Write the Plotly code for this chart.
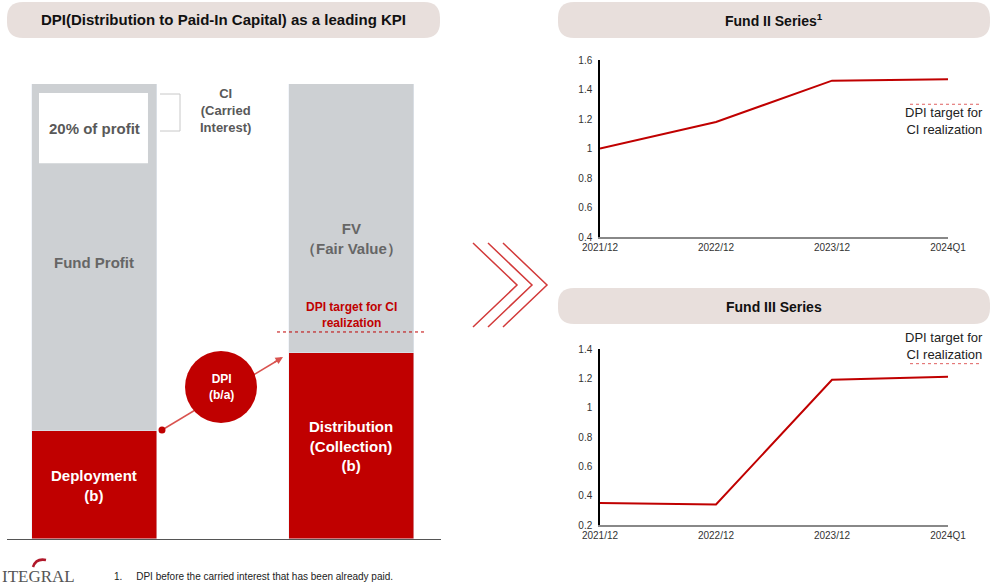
import plotly.graph_objects as go

# ---------------- data ----------------
concept_bars = ["Invested", "Collected"]
red_values = [23.7, 40.9]      # Deployment (b), Distribution (b)
gray_values = [76.3, 59.1]     # Fund Profit, Fair Value
concept_target = 45.5          # DPI target level on concept diagram
ci_box = [82.6, 98.0]          # 20% of profit box (bottom, top)

periods = ["2021/12", "2022/12", "2023/12", "2024Q1"]
fund2_dpi = [1.00, 1.18, 1.46, 1.47]
fund3_dpi = [0.35, 0.34, 1.19, 1.21]
dpi_target = 1.3

W, H = 993, 585
RED = "#c00000"
GRAY = "#cdd0d3"
PILL = "#e8dfdc"
FONT = "Arial, 'Liberation Sans', sans-serif"


def px(x):
    return x / W


def py(y):
    return 1 - y / H


def pill(x0, y0, x1, y1, r):
    pts = [
        ("M", [(x0 + r, y0)]), ("L", [(x1 - r, y0)]), ("Q", [(x1, y0), (x1, y0 + r)]),
        ("L", [(x1, y1 - r)]), ("Q", [(x1, y1), (x1 - r, y1)]), ("L", [(x0 + r, y1)]),
        ("Q", [(x0, y1), (x0, y1 - r)]), ("L", [(x0, y0 + r)]), ("Q", [(x0, y0), (x0 + r, y0)]),
    ]
    s = ""
    for cmd, ps in pts:
        s += cmd + " " + " ".join(f"{px(a):.5f},{py(b):.5f}" for a, b in ps) + " "
    return s + "Z"


fig = go.Figure()

# concept stacked bars
fig.add_trace(go.Bar(x=[0, 1], y=red_values, marker_color=RED, width=0.486,
                     xaxis="x", yaxis="y", showlegend=False, hoverinfo="skip"))
fig.add_trace(go.Bar(x=[0, 1], y=gray_values, marker_color=GRAY, width=0.486,
                     xaxis="x", yaxis="y", showlegend=False, hoverinfo="skip"))

# fund lines
fig.add_trace(go.Scatter(x=periods, y=fund2_dpi, mode="lines", line=dict(color=RED, width=2),
                         xaxis="x2", yaxis="y2", showlegend=False, hoverinfo="skip"))
fig.add_trace(go.Scatter(x=periods, y=fund3_dpi, mode="lines", line=dict(color=RED, width=2),
                         xaxis="x3", yaxis="y3", showlegend=False, hoverinfo="skip"))

axis_common = dict(showgrid=False, zeroline=False, fixedrange=True, automargin=False)
tickf = dict(family=FONT, size=10, color="#333")

fig.update_layout(
    width=W, height=H, margin=dict(l=0, r=0, t=0, b=0, autoexpand=False),
    paper_bgcolor="white", plot_bgcolor="rgba(0,0,0,0)",
    barmode="stack", bargap=0,
    font=dict(family=FONT),
    xaxis=dict(domain=[px(7), px(441)], range=[-0.3405, 1.348], showticklabels=False,
               showline=True, linecolor="#555", linewidth=1, ticks="", **axis_common),
    yaxis=dict(domain=[py(539), py(84)], range=[0, 100], visible=False, **axis_common),
    xaxis2=dict(domain=[px(600), px(948)], range=[0, 3], type="category", anchor="y2",
                showline=True, linecolor="#888", linewidth=1.5, ticks="", tickfont=tickf, **axis_common),
    yaxis2=dict(domain=[py(237), py(60)], range=[0.4, 1.6], dtick=0.2, anchor="x2",
                showline=True, linecolor="#000", linewidth=1.5, ticks="", tickfont=tickf,
                ticklabelstandoff=4, **axis_common),
    xaxis3=dict(domain=[px(600), px(948)], range=[0, 3], type="category", anchor="y3",
                showline=True, linecolor="#888", linewidth=1.5, ticks="", tickfont=tickf, **axis_common),
    yaxis3=dict(domain=[py(525), py(349)], range=[0.2, 1.4], dtick=0.2, anchor="x3",
                showline=True, linecolor="#000", linewidth=1.5, ticks="", tickfont=tickf,
                ticklabelstandoff=4, **axis_common),
)

shapes = []
# title pills
shapes.append(dict(type="path", xref="paper", yref="paper", path=pill(7, 2, 440, 38, 16),
                   fillcolor=PILL, line=dict(width=0), layer="below"))
shapes.append(dict(type="path", xref="paper", yref="paper", path=pill(558, 2, 990, 38, 16),
                   fillcolor=PILL, line=dict(width=0), layer="below"))
shapes.append(dict(type="path", xref="paper", yref="paper", path=pill(558, 288, 990, 324, 16),
                   fillcolor=PILL, line=dict(width=0), layer="below"))
# 20% of profit white box
shapes.append(dict(type="rect", xref="x", yref="y", x0=-0.216, x1=0.208, y0=ci_box[0], y1=ci_box[1],
                   fillcolor="white", line=dict(width=0)))
# bracket
shapes.append(dict(type="path", xref="paper", yref="paper",
                   path=f"M {px(160)},{py(94)} L {px(180)},{py(94)} L {px(180)},{py(131)} L {px(160)},{py(131)}",
                   line=dict(color="#c8c8c8", width=1)))
# concept target dashed line
shapes.append(dict(type="line", xref="paper", yref="y", x0=px(277), x1=px(427),
                   y0=concept_target, y1=concept_target, line=dict(color=RED, width=1, dash="dot")))
# arrow line + dot + circle
shapes.append(dict(type="line", xref="paper", yref="paper", x0=px(162), y0=py(430), x1=px(280), y1=py(359),
                   line=dict(color="#d9534f", width=1.5)))
shapes.append(dict(type="circle", xref="paper", yref="paper", x0=px(158.5), x1=px(165.5), y0=py(426.5), y1=py(433.5),
                   fillcolor=RED, line=dict(width=0)))
shapes.append(dict(type="circle", xref="paper", yref="paper", x0=px(185), x1=px(257), y0=py(351), y1=py(423),
                   fillcolor=RED, line=dict(width=0)))
# chevrons
for off in (0, 15, 30):
    shapes.append(dict(type="path", xref="paper", yref="paper",
                       path=f"M {px(473+off)},{py(243)} L {px(517+off)},{py(285)} L {px(473+off)},{py(327)}",
                       line=dict(color="#d23a3a", width=1.5)))
# target lines on fund charts
shapes.append(dict(type="line", xref="paper", yref="y2", x0=px(910), x1=px(980), y0=dpi_target, y1=dpi_target,
                   line=dict(color="#e06060", width=1, dash="dot")))
shapes.append(dict(type="line", xref="paper", yref="y3", x0=px(910), x1=px(980), y0=dpi_target, y1=dpi_target,
                   line=dict(color="#e06060", width=1, dash="dot")))
# logo swoosh
shapes.append(dict(type="path", xref="paper", yref="paper",
                   path=f"M {px(33)},{py(567)} Q {px(36)},{py(558)} {px(46)},{py(560)}",
                   line=dict(color="#b0182a", width=2.5)))
fig.update_layout(shapes=shapes)


def ann(text, x, y, size, color, bold=True, xanchor="center", align="center", family=FONT):
    t = f"<b>{text}</b>" if bold else text
    return dict(text=t, x=px(x), y=py(y), xref="paper", yref="paper", showarrow=False,
                xanchor=xanchor, yanchor="middle", align=align,
                font=dict(family=family, size=size, color=color))


annotations = [
    ann("DPI(Distribution to Paid-In Capital) as a leading KPI", 223, 20, 15, "#111"),
    ann("Fund II Series<sup>1</sup>", 774, 20, 14, "#111"),
    ann("Fund III Series", 774, 307, 14, "#111"),
    ann("20% of profit", 94, 128, 15, "#595959"),
    ann("Fund Profit", 94, 262, 15, "#666"),
    ann("Deployment<br>(b)", 94, 485, 15, "white"),
    ann("FV<br>（Fair Value）", 351, 238, 15, "#666"),
    ann("DPI target for CI<br>realization", 351, 315, 12, RED),
    ann("Distribution<br>(Collection)<br>(b)", 351, 446, 15, "white"),
    ann("CI<br>(Carried<br>Interest)", 225, 110, 13, "#595959"),
    ann("DPI<br>(b/a)", 221, 387, 12, "white"),
    ann("DPI target for<br>CI realization", 985, 121, 13, "#222", bold=False, xanchor="right", align="right"),
    ann("DPI target for<br>CI realization", 985, 346, 13, "#222", bold=False, xanchor="right", align="right"),
    ann("1.&nbsp;&nbsp;&nbsp;&nbsp;&nbsp;DPI before the carried interest that has been already paid.",
        112, 576, 10, "#222", bold=False, xanchor="left", align="left"),
    ann("ITEGRAL", 0, 576, 17, "#555", bold=False, xanchor="left", align="left",
        family="'Liberation Serif', 'DejaVu Serif', serif"),
    # arrowhead
    dict(x=px(283), y=py(357), xref="paper", yref="paper", ax=-10, ay=6, showarrow=True,
         arrowhead=2, arrowsize=1, arrowwidth=1.5, arrowcolor="#d9534f", text=""),
]
fig.update_layout(annotations=annotations)

fig.write_html("out.html", config={"displayModeBar": False},
               post_script="document.body.style.margin='0';document.body.style.overflow='hidden';")
